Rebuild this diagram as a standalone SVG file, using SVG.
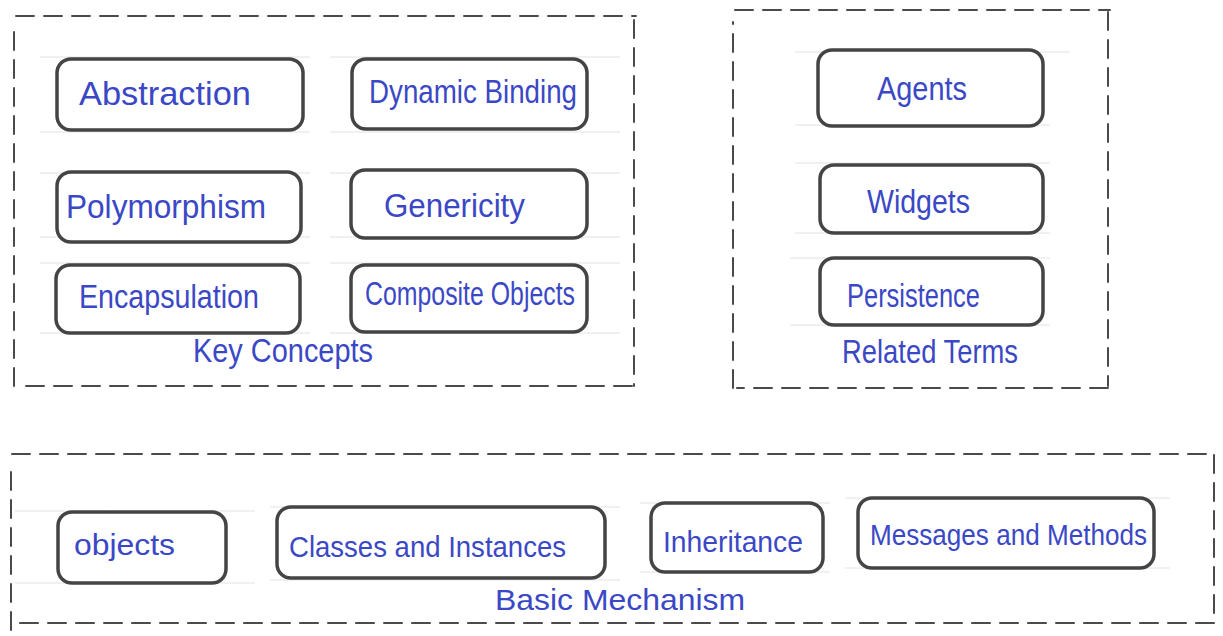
<svg xmlns="http://www.w3.org/2000/svg" width="1223" height="636" viewBox="0 0 1223 636">
  <style>
    .rule { stroke: #e2e2e2; stroke-width: 1; fill: none; }
    .group { stroke: #4a4a4a; stroke-width: 2; fill: none; stroke-dasharray: 18 10; stroke-linecap: round; }
    .box { fill: #ffffff; stroke: #444444; stroke-width: 3.5; }
    .lbl { font-family: "Liberation Sans", "DejaVu Sans", sans-serif; fill: #3b48c6; font-size: 33px; }
    .lbl.sm { font-size: 29px; }
  </style>
  <rect width="1223" height="636" fill="#ffffff"/>

  <!-- faint ruled paper lines -->
  <g id="paper">
    <path class="rule" d="M40 57H310 M330 57H620 M40 132H310 M330 132H620 M40 173H310 M330 173H620 M40 237H310 M330 237H620 M40 263H310 M330 263H620 M40 333H310 M330 333H620"/>
    <path class="rule" d="M795 52H1070 M795 125H1050 M795 163H1050 M795 233H1050 M790 258H1050 M790 325H1050"/>
    <path class="rule" d="M15 511H100 M115 511H255 M270 507H620 M640 503H830 M845 498H1170 M15 583H100 M115 583H255 M270 580H620 M640 572H830 M845 568H1170"/>
  </g>

  <!-- dashed grouping frames -->
  <g id="connectors">
    <path class="group" d="M16 16H636 M634 20V386 M632 386H18 M14 386V28"/>
    <path class="group" d="M735 10H1110 M1108 12V386 M1108 388H737 M733 388V22"/>
    <path class="group" d="M12 454H1215 M1214 455V620 M1214 623H12 M11 630V465"/>
  </g>

  <!-- Key Concepts -->
  <g id="key-concepts">
    <g id="abstraction"><rect class="box" x="57" y="59" width="246" height="71" rx="14"/><text class="lbl" x="79" y="105" textLength="172" lengthAdjust="spacingAndGlyphs">Abstraction</text></g>
    <g id="dynamic-binding"><rect class="box" x="352" y="59" width="235" height="70" rx="14"/><text class="lbl" x="369" y="103" textLength="208" lengthAdjust="spacingAndGlyphs">Dynamic Binding</text></g>
    <g id="polymorphism"><rect class="box" x="57" y="172" width="244" height="70" rx="14"/><text class="lbl" x="66" y="218" textLength="200" lengthAdjust="spacingAndGlyphs">Polymorphism</text></g>
    <g id="genericity"><rect class="box" x="351" y="170" width="236" height="68" rx="14"/><text class="lbl" x="384" y="217" textLength="141" lengthAdjust="spacingAndGlyphs">Genericity</text></g>
    <g id="encapsulation"><rect class="box" x="56" y="265" width="244" height="68" rx="14"/><text class="lbl" x="79" y="308" textLength="180" lengthAdjust="spacingAndGlyphs">Encapsulation</text></g>
    <g id="composite-objects"><rect class="box" x="351" y="265" width="236" height="67" rx="14"/><text class="lbl" x="365" y="305" textLength="210" lengthAdjust="spacingAndGlyphs">Composite Objects</text></g>
    <text id="key-concepts-title" class="lbl" x="193" y="362" textLength="180" lengthAdjust="spacingAndGlyphs">Key Concepts</text>
  </g>

  <!-- Related Terms -->
  <g id="related-terms">
    <g id="agents"><rect class="box" x="818" y="50" width="225" height="76" rx="14"/><text class="lbl" x="877" y="100" textLength="90" lengthAdjust="spacingAndGlyphs">Agents</text></g>
    <g id="widgets"><rect class="box" x="820" y="165" width="223" height="68" rx="14"/><text class="lbl" x="867" y="213" textLength="103" lengthAdjust="spacingAndGlyphs">Widgets</text></g>
    <g id="persistence"><rect class="box" x="820" y="258" width="223" height="67" rx="14"/><text class="lbl" x="847" y="307" textLength="133" lengthAdjust="spacingAndGlyphs">Persistence</text></g>
    <text id="related-terms-title" class="lbl" x="842" y="363" textLength="176" lengthAdjust="spacingAndGlyphs">Related Terms</text>
  </g>

  <!-- Basic Mechanism -->
  <g id="basic-mechanism">
    <g id="objects"><rect class="box" x="58" y="512" width="168" height="71" rx="14"/><text class="lbl sm" x="74" y="555" textLength="101" lengthAdjust="spacingAndGlyphs">objects</text></g>
    <g id="classes-and-instances"><rect class="box" x="277" y="507" width="328" height="71" rx="14"/><text class="lbl sm" x="289" y="557" textLength="277" lengthAdjust="spacingAndGlyphs">Classes and Instances</text></g>
    <g id="inheritance"><rect class="box" x="651" y="503" width="172" height="69" rx="14"/><text class="lbl sm" x="663" y="552" textLength="140" lengthAdjust="spacingAndGlyphs">Inheritance</text></g>
    <g id="messages-and-methods"><rect class="box" x="858" y="498" width="296" height="70" rx="14"/><text class="lbl sm" x="870" y="545" textLength="277" lengthAdjust="spacingAndGlyphs">Messages and Methods</text></g>
    <text id="basic-mechanism-title" class="lbl sm" x="495" y="610" textLength="250" lengthAdjust="spacingAndGlyphs">Basic Mechanism</text>
  </g>
</svg>
